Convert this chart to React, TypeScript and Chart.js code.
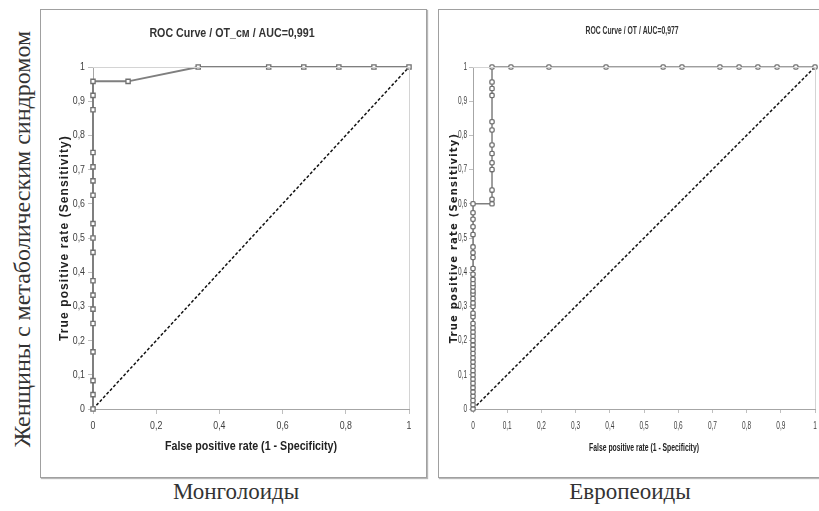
import React, { useEffect, useRef } from "react";
import { Chart, registerables } from "chart.js";
Chart.register(...registerables);

// Монголоиды (left panel)
const monFpr = [0, 0, 0, 0, 0, 0, 0, 0, 0, 0, 0, 0, 0, 0, 0, 0, 0, 0, 0.111, 0.333, 0.556, 0.667, 0.778, 0.889, 1];
const monTpr = [0, 0.042, 0.083, 0.167, 0.25, 0.292, 0.333, 0.375, 0.458, 0.5, 0.542, 0.625, 0.667, 0.708, 0.75, 0.875, 0.917, 0.958, 0.958, 1, 1, 1, 1, 1, 1];

// Европеоиды (right panel)
const eurFpr = [
  0, 0, 0, 0, 0, 0, 0, 0, 0, 0, 0, 0, 0, 0, 0, 0, 0, 0, 0, 0,
  0, 0, 0, 0, 0, 0, 0, 0, 0, 0, 0, 0, 0, 0, 0, 0, 0, 0, 0, 0, 0,
  0.0556, 0.0556, 0.0556, 0.0556, 0.0556, 0.0556, 0.0556, 0.0556, 0.0556, 0.0556, 0.0556, 0.0556, 0.0556,
  0.111, 0.222, 0.389, 0.556, 0.611, 0.722, 0.778, 0.833, 0.889, 0.944, 1,
];
const eurTpr = [
  0, 0.0125, 0.025, 0.0375, 0.05, 0.0625, 0.075, 0.0875, 0.1, 0.1125, 0.125, 0.1375, 0.15, 0.1625, 0.175, 0.1875, 0.2, 0.2125, 0.225, 0.2375,
  0.25, 0.27, 0.28, 0.3, 0.31, 0.323, 0.336, 0.345, 0.357, 0.367, 0.379, 0.394, 0.411, 0.443, 0.457, 0.474, 0.51, 0.533, 0.555, 0.574, 0.6,
  0.6, 0.613, 0.64, 0.7, 0.72, 0.747, 0.772, 0.816, 0.84, 0.917, 0.937, 0.956, 1,
  1, 1, 1, 1, 1, 1, 1, 1, 1, 1, 1,
];

const diagX = [0, 1];
const diagY = [0, 1];

const leftTitle = "ROC Curve / OT_см / AUC=0,991";
const rightTitle = "ROC Curve / OT / AUC=0,977";
const xTitle = "False positive rate (1 - Specificity)";
const yTitle = "True positive rate (Sensitivity)";
const sideLabel = "Женщины с метаболическим синдромом";
const leftCaption = "Монголоиды";
const rightCaption = "Европеоиды";

const SANS = "'Liberation Sans', Arial, sans-serif";

function fmt(v: number) {
  const r = Math.round(v * 10) / 10;
  if (r === 0) return "0";
  if (r === 1) return "1";
  return r.toFixed(1).replace(".", ",");
}

type TextStyle = { font: string; color: string; sx: number; ls: number };

function drawText(
  ctx: CanvasRenderingContext2D,
  text: string,
  x: number,
  y: number,
  st: TextStyle,
  align: CanvasTextAlign,
  rot: number
) {
  ctx.save();
  ctx.translate(x, y);
  if (rot) ctx.rotate(rot);
  ctx.scale(st.sx, 1);
  ctx.font = st.font;
  ctx.fillStyle = st.color;
  ctx.textAlign = align;
  ctx.textBaseline = "middle";
  (ctx as any).letterSpacing = st.ls + "px";
  ctx.fillText(text, 0, 0);
  ctx.restore();
}

type Spec = {
  title: string;
  fpr: number[];
  tpr: number[];
  xStep: number;
  pad: { left: number; right: number; top: number; bottom: number };
  yWidth: number;
  xHeight: number;
  lineWidth: number;
  pointRadius: number;
  pointStyle: string;
  tickLen: number;
  titlePos: [number, number];
  titleStyle: TextStyle;
  xTitlePos: [number, number];
  xTitleStyle: TextStyle;
  yTitlePos: [number, number];
  yTitleStyle: TextStyle;
  tickStyle: TextStyle;
  xLabelY: number;
  yLabelGap: number;
};

function makeTextPlugin(s: Spec) {
  return {
    id: "texts",
    afterDraw(chart: any) {
      const ctx: CanvasRenderingContext2D = chart.ctx;
      const a = chart.chartArea;
      // plot frame (top/right)
      ctx.save();
      ctx.strokeStyle = "#d4d4d4";
      ctx.lineWidth = 1;
      ctx.beginPath();
      ctx.moveTo(a.left, Math.round(a.top) + 0.5);
      ctx.lineTo(Math.round(a.right) + 0.5, Math.round(a.top) + 0.5);
      ctx.lineTo(Math.round(a.right) + 0.5, a.bottom);
      ctx.stroke();
      ctx.restore();

      const xs = chart.scales.x;
      const ys = chart.scales.y;
      xs.ticks.forEach((t: any) => {
        drawText(ctx, fmt(t.value), xs.getPixelForValue(t.value), s.xLabelY, s.tickStyle, "center", 0);
      });
      ys.ticks.forEach((t: any) => {
        drawText(ctx, fmt(t.value), a.left - s.yLabelGap, ys.getPixelForValue(t.value), s.tickStyle, "right", 0);
      });
      drawText(ctx, s.title, s.titlePos[0], s.titlePos[1], s.titleStyle, "center", 0);
      drawText(ctx, xTitle, s.xTitlePos[0], s.xTitlePos[1], s.xTitleStyle, "center", 0);
      drawText(ctx, yTitle, s.yTitlePos[0], s.yTitlePos[1], s.yTitleStyle, "center", -Math.PI / 2);
    },
  };
}

function buildConfig(s: Spec): any {
  const roc = s.fpr.map((x, i) => ({ x, y: s.tpr[i] }));
  const diag = diagX.map((x, i) => ({ x, y: diagY[i] }));
  return {
    type: "scatter",
    data: {
      datasets: [
        {
          data: roc,
          showLine: true,
          borderColor: "#7f7f7f",
          borderWidth: s.lineWidth,
          pointStyle: s.pointStyle,
          pointRadius: s.pointRadius,
          pointBackgroundColor: "#ffffff",
          pointBorderColor: "#707070",
          pointBorderWidth: 1.3,
          clip: false,
          order: 1,
        },
        {
          data: diag,
          showLine: true,
          borderColor: "#111111",
          borderWidth: 1.5,
          borderDash: [3, 2],
          pointRadius: 0,
          clip: false,
          order: 2,
        },
      ],
    },
    options: {
      responsive: false,
      animation: false,
      events: [],
      layout: { padding: s.pad },
      plugins: {
        legend: { display: false },
        tooltip: { enabled: false },
        title: { display: false },
      },
      scales: {
        x: {
          type: "linear",
          min: 0,
          max: 1,
          afterFit(scale: any) {
            scale.height = s.xHeight;
          },
          ticks: { stepSize: s.xStep, display: false },
          grid: { drawOnChartArea: false, tickLength: s.tickLen, color: "#bfbfbf" },
          border: { color: "#a6a6a6", width: 1 },
        },
        y: {
          type: "linear",
          min: 0,
          max: 1,
          afterFit(scale: any) {
            scale.width = s.yWidth;
          },
          ticks: { stepSize: 0.1, display: false },
          grid: { drawOnChartArea: false, tickLength: s.tickLen, color: "#bfbfbf" },
          border: { color: "#a6a6a6", width: 1 },
        },
      },
    },
    plugins: [makeTextPlugin(s)],
  };
}

function RocChart(props: { left: number; top: number; width: number; height: number; spec: Spec }) {
  const ref = useRef<HTMLCanvasElement | null>(null);
  useEffect(() => {
    if (!ref.current) return;
    const chart = new Chart(ref.current, buildConfig(props.spec));
    return () => chart.destroy();
  }, []);
  return (
    <canvas
      ref={ref}
      width={props.width}
      height={props.height}
      style={{ position: "absolute", left: props.left, top: props.top, width: props.width, height: props.height }}
    />
  );
}

// chart area (canvas coords): left 52, top 57, right 368, bottom 399
const leftSpec: Spec = {
  title: leftTitle,
  fpr: monFpr,
  tpr: monTpr,
  xStep: 0.2,
  pad: { left: 17, right: 17, top: 57, bottom: 38 },
  yWidth: 35,
  xHeight: 30,
  lineWidth: 2,
  pointRadius: 3,
  pointStyle: "rect",
  tickLen: 5,
  titlePos: [191, 23],
  titleStyle: { font: "bold 13px " + SANS, color: "#333333", sx: 0.82, ls: 0 },
  xTitlePos: [210, 437],
  xTitleStyle: { font: "bold 12px " + SANS, color: "#222222", sx: 0.89, ls: 0 },
  yTitlePos: [24, 228],
  yTitleStyle: { font: "bold 12px " + SANS, color: "#222222", sx: 1, ls: 1.1 },
  tickStyle: { font: "11px " + SANS, color: "#404040", sx: 0.8, ls: 0 },
  xLabelY: 416,
  yLabelGap: 8,
};

// chart area (canvas coords): left 34, top 57, right 376, bottom 399
const rightSpec: Spec = {
  title: rightTitle,
  fpr: eurFpr,
  tpr: eurTpr,
  xStep: 0.1,
  pad: { left: 10, right: 14, top: 57, bottom: 38 },
  yWidth: 24,
  xHeight: 30,
  lineWidth: 1.5,
  pointRadius: 2.5,
  pointStyle: "rectRounded",
  tickLen: 4,
  titlePos: [193, 21],
  titleStyle: { font: "bold 11px " + SANS, color: "#333333", sx: 0.62, ls: 0 },
  xTitlePos: [205, 438],
  xTitleStyle: { font: "bold 11px " + SANS, color: "#222222", sx: 0.62, ls: 0 },
  yTitlePos: [15, 228],
  yTitleStyle: { font: "bold 10px 'DejaVu Sans', sans-serif", color: "#222222", sx: 1, ls: 1.2 },
  tickStyle: { font: "10px " + SANS, color: "#404040", sx: 0.65, ls: 0 },
  xLabelY: 416,
  yLabelGap: 6,
};

const serif = "'Liberation Serif', 'Times New Roman', serif";

export default function App() {
  return (
    <div
      style={{
        position: "fixed",
        left: 0,
        top: 0,
        width: 819,
        height: 511,
        overflow: "hidden",
        background: "#ffffff",
      }}
    >
      <div
        style={{
          position: "absolute",
          left: 22,
          top: 239,
          transform: "translate(-50%, -50%) rotate(-90deg)",
          whiteSpace: "nowrap",
          fontFamily: serif,
          fontSize: 24,
          color: "#333333",
        }}
      >
        {sideLabel}
      </div>

      <div
        style={{
          position: "absolute",
          left: 40,
          top: 9,
          width: 385,
          height: 467,
          border: "1px solid #a0a0a0",
          boxShadow: "1px 1px 1px #b8b8b8",
        }}
      />
      <div
        style={{
          position: "absolute",
          left: 438,
          top: 9,
          width: 420,
          height: 467,
          border: "1px solid #a0a0a0",
          boxShadow: "1px 1px 1px #b8b8b8",
        }}
      />

      <RocChart left={41} top={10} width={385} height={467} spec={leftSpec} />
      <RocChart left={439} top={10} width={390} height={467} spec={rightSpec} />

      <div
        style={{
          position: "absolute",
          left: 236,
          top: 492,
          transform: "translate(-50%, -50%)",
          whiteSpace: "nowrap",
          fontFamily: serif,
          fontSize: 23,
          color: "#333333",
        }}
      >
        {leftCaption}
      </div>
      <div
        style={{
          position: "absolute",
          left: 630,
          top: 492,
          transform: "translate(-50%, -50%)",
          whiteSpace: "nowrap",
          fontFamily: serif,
          fontSize: 23,
          color: "#333333",
        }}
      >
        {rightCaption}
      </div>
    </div>
  );
}
